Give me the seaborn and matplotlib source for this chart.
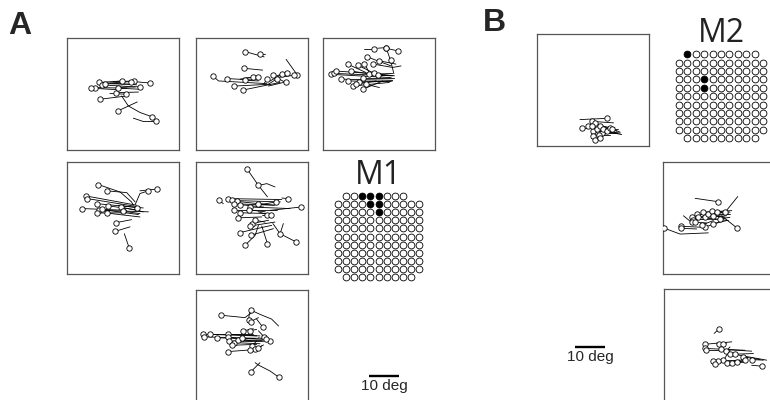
import pandas as pd
import matplotlib
matplotlib.use("Agg")
import matplotlib.pyplot as plt
import seaborn as sns

sns.set_style("white")
plt.rcParams["font.family"] = ["Liberation Sans", "DejaVu Sans"]

# saccade traces in degrees (x right, y up); the first point of each trace gets the circle
a1_traces = [
    [(27.6, 22.4), (22.0, 22.9)], [(22.2, 23.1), (15.3, 22.8)], [(21.2, 22.9), (14.2, 22.4)],
    [(18.1, 23.1), (10.9, 22.6)], [(10.7, 22.6), (23.1, 21.8)], [(11.4, 21.8), (22.6, 21.1)],
    [(9.2, 20.9), (19.8, 20.7)], [(7.9, 20.7), (16.4, 20.2)], [(24.2, 21.2), (16.4, 20.9)],
    [(16.2, 19.2), (23.7, 19.4)], [(10.9, 17.0), (19.8, 18.1)],
    [(28.1, 11.2), (24.2, 12.6), (20.3, 14.8), (18.1, 18.1)],
    [(16.8, 13.1), (23.3, 16.1)], [(29.6, 9.6), (25.3, 9.6), (22.0, 10.7)],
    [(19.4, 18.7), (14.2, 18.9)], [(12.6, 22.2), (21.4, 22.0)], [(17.0, 20.7), (24.8, 20.3)],
]
a2_traces = [
    [(16.4, 32.9), (22.8, 31.1)], [(21.4, 32.0), (23.1, 32.0)], [(16.2, 27.3), (22.3, 26.7)],
    [(5.7, 24.8), (7.6, 23.1), (23.7, 22.2)], [(10.3, 23.9), (19.2, 23.4)],
    [(19.2, 24.4), (14.8, 23.7)], [(20.9, 24.4), (15.9, 24.0)], [(16.4, 23.3), (20.9, 23.1)],
    [(12.9, 21.4), (24.8, 22.0)], [(15.9, 20.1), (28.1, 22.6)], [(33.9, 25.0), (30.1, 30.3)],
    [(32.8, 25.0), (27.0, 24.2)], [(23.9, 23.9), (22.6, 22.0)], [(25.7, 25.0), (29.8, 22.6)],
    [(27.2, 23.9), (24.2, 22.0)], [(28.7, 25.3), (24.8, 23.1)], [(30.3, 25.9), (27.0, 24.8)],
    [(30.1, 22.8), (24.2, 21.4)],
]
a3_traces = [
    [(17.0, 33.7), (13.7, 33.7)], [(20.9, 34.2), (18.1, 34.0)], [(24.8, 33.1), (20.9, 34.0)],
    [(22.4, 30.0), (23.5, 25.5)], [(20.9, 34.2), (22.2, 30.5)], [(14.4, 31.2), (22.6, 28.1)],
    [(18.7, 29.8), (24.2, 28.7)], [(16.7, 28.7), (23.1, 27.6), (25.9, 28.1)],
    [(2.6, 25.3), (22.6, 24.2)], [(3.7, 25.6), (23.1, 24.8)], [(4.2, 26.4), (19.8, 25.3)],
    [(5.9, 23.7), (23.1, 23.3)], [(8.1, 28.7), (14.2, 25.9)], [(8.1, 23.1), (22.6, 22.9)],
    [(9.2, 26.4), (19.8, 24.8)], [(9.8, 21.4), (22.0, 22.6)], [(11.4, 28.4), (16.4, 25.9)],
    [(12.0, 22.6), (23.1, 23.1)], [(13.1, 24.2), (23.7, 24.2)], [(13.7, 28.9), (15.3, 25.9)],
    [(14.2, 22.0), (18.7, 20.9)], [(15.3, 25.3), (23.1, 25.6)], [(17.0, 25.6), (23.7, 24.8)],
    [(13.1, 20.3), (19.8, 23.1)], [(10.9, 22.0), (17.6, 23.1)], [(18.1, 25.1), (22.6, 25.1)],
]
a4_traces = [
    [(10.3, 29.7), (17.6, 27.2), (21.4, 23.9), (22.0, 22.8)],
    [(13.1, 27.6), (19.8, 27.0), (22.6, 23.9)], [(30.0, 28.2), (24.2, 27.6)],
    [(27.0, 27.6), (24.2, 26.7), (22.6, 23.0)], [(6.2, 25.9), (23.1, 22.8)],
    [(6.7, 25.0), (24.2, 22.2)], [(10.0, 23.3), (25.3, 21.9)], [(13.7, 22.6), (24.2, 21.1)],
    [(17.8, 22.2), (25.3, 20.6)], [(23.1, 22.0), (17.0, 22.8)], [(4.8, 21.7), (19.8, 21.1)],
    [(10.7, 21.1), (27.0, 20.6)], [(11.4, 21.4), (23.7, 19.7)], [(13.1, 20.2), (24.2, 18.9)],
    [(10.0, 20.2), (19.8, 20.3)], [(18.7, 20.8), (24.2, 20.0)], [(16.2, 17.0), (21.4, 18.0)],
    [(15.9, 14.1), (20.9, 15.6)], [(20.6, 8.6), (19.0, 13.3)],
]
a5_traces = [
    [(17.0, 35.0), (20.9, 29.4), (23.9, 25.6)], [(20.9, 29.4), (23.7, 30.0), (26.4, 28.9)],
    [(7.6, 24.7), (9.2, 23.3)], [(30.9, 25.0), (28.7, 25.2)], [(10.9, 25.0), (28.7, 24.7)],
    [(12.0, 24.4), (28.2, 23.9)], [(13.7, 24.1), (23.7, 23.0)], [(12.6, 23.3), (26.0, 22.8)],
    [(14.8, 23.0), (22.6, 22.2)], [(18.1, 22.2), (31.4, 21.7)], [(26.8, 23.9), (20.3, 22.8)],
    [(35.0, 22.2), (24.8, 21.1)], [(12.6, 21.1), (27.0, 21.1)], [(14.6, 20.3), (25.3, 20.0)],
    [(17.6, 21.3), (23.2, 20.6)], [(23.9, 19.7), (20.9, 20.6)], [(25.1, 19.7), (22.0, 19.7)],
    [(14.0, 18.6), (22.0, 18.9)], [(18.7, 16.7), (24.3, 17.8)], [(18.1, 15.9), (26.4, 17.2)],
    [(19.8, 17.8), (23.1, 17.2)], [(14.8, 13.7), (20.3, 15.0), (25.3, 16.1)],
    [(18.4, 12.8), (25.9, 15.0)], [(16.4, 9.4), (19.8, 12.8), (20.9, 16.1)],
    [(23.9, 10.0), (22.0, 15.9)], [(33.4, 10.6), (28.1, 13.3), (25.7, 16.7)],
    [(28.1, 13.3), (29.2, 16.7)], [(20.9, 23.3), (26.4, 22.8)],
]
a6_traces = [
    [(8.4, 28.9), (16.4, 28.1), (18.7, 29.8)],
    [(18.4, 30.6), (21.4, 29.2), (25.3, 27.6), (27.6, 25.3)],
    [(17.6, 27.2), (17.9, 29.8)], [(18.3, 26.8), (20.9, 28.1)], [(22.3, 25.0), (20.3, 27.6)],
    [(15.9, 23.7), (19.2, 24.4)], [(18.1, 23.7), (20.3, 24.2)], [(22.8, 21.7), (20.9, 23.7)],
    [(24.6, 20.3), (22.0, 22.0)], [(2.3, 22.6), (20.3, 22.0)], [(2.6, 21.7), (20.9, 21.2)],
    [(4.6, 22.6), (19.2, 22.6)], [(7.0, 21.4), (22.0, 20.9)], [(10.6, 22.6), (21.4, 22.0)],
    [(10.9, 21.7), (18.7, 20.3)], [(11.2, 20.3), (22.6, 20.1)], [(12.6, 19.8), (21.4, 19.4)],
    [(12.2, 18.9), (20.3, 19.2)], [(14.2, 20.6), (22.0, 20.6)], [(15.3, 21.4), (19.8, 21.4)],
    [(10.9, 16.8), (17.6, 17.3)], [(18.7, 18.7), (20.3, 20.3)], [(19.8, 17.6), (22.0, 18.7)],
    [(18.1, 17.2), (21.4, 17.6)], [(20.9, 18.1), (22.6, 19.0)], [(18.4, 10.1), (21.4, 13.1)],
    [(27.6, 8.3), (24.8, 10.3), (20.9, 12.3), (19.8, 13.1)], [(23.4, 20.9), (20.9, 21.4)],
]
b1_traces = [
    [(23.3, 9.3), (14.4, 8.9)], [(15.0, 6.1), (20.0, 6.1)], [(18.3, 8.3), (25.6, 7.8)],
    [(17.2, 6.7), (26.1, 5.6)], [(19.4, 7.8), (26.7, 5.0)], [(18.9, 5.0), (27.8, 4.4)],
    [(20.0, 5.6), (28.3, 3.9)], [(21.1, 6.7), (26.1, 6.1)], [(21.7, 4.4), (26.7, 4.4)],
    [(22.2, 5.6), (25.6, 5.0)], [(23.3, 5.0), (27.2, 4.4)], [(24.4, 6.1), (27.8, 4.7)],
    [(20.6, 3.9), (24.4, 3.9)], [(18.9, 3.3), (21.7, 4.4)], [(19.4, 2.0), (21.1, 3.3)],
    [(21.1, 2.8), (22.8, 3.9)], [(18.3, 6.9), (20.0, 4.4)], [(25.0, 5.6), (27.2, 5.6)],
]
b2_traces = [
    [(18.1, 24.1), (10.6, 25.2)], [(24.7, 15.2), (19.4, 19.4)], [(20.6, 20.6), (24.8, 25.8)],
    [(0.2, 15.3), (5.6, 13.3), (15.0, 13.7)], [(5.8, 15.9), (12.2, 15.6)],
    [(5.8, 15.2), (11.1, 15.0)], [(9.4, 18.9), (18.9, 19.4)], [(10.0, 18.1), (20.0, 18.3)],
    [(11.1, 20.0), (22.2, 20.0)], [(11.7, 18.9), (21.7, 17.8)], [(13.3, 20.6), (22.8, 21.1)],
    [(13.9, 18.9), (21.1, 19.4)], [(15.0, 20.0), (20.6, 20.6)], [(16.1, 20.9), (22.2, 20.6)],
    [(16.7, 19.4), (20.6, 18.9)], [(17.8, 20.6), (21.7, 20.0)], [(16.7, 16.7), (21.1, 17.8)],
    [(13.9, 15.6), (18.3, 17.2)], [(12.8, 16.3), (16.7, 17.8)], [(18.9, 18.3), (22.2, 18.9)],
    [(9.4, 17.2), (6.7, 19.4)], [(10.6, 17.2), (14.4, 17.0)],
]
b3_traces = [
    [(18.4, 24.2), (16.7, 22.6)], [(13.7, 19.0), (22.6, 19.8)], [(13.7, 17.6), (27.0, 17.0)],
    [(14.0, 17.0), (20.9, 16.8)], [(18.4, 19.2), (20.9, 19.4)], [(19.8, 19.0), (17.6, 19.4)],
    [(19.0, 17.3), (29.2, 16.7)], [(20.6, 16.7), (22.0, 18.1)], [(22.0, 15.9), (34.2, 13.7)],
    [(23.7, 15.7), (29.8, 15.9)], [(26.4, 14.8), (32.0, 13.9)], [(27.0, 13.9), (23.1, 13.4)],
    [(29.2, 13.9), (33.1, 13.7)], [(32.6, 11.7), (29.2, 12.0)], [(19.8, 13.7), (22.0, 17.0)],
    [(18.1, 13.4), (25.3, 13.7)], [(16.4, 13.4), (18.7, 13.7)], [(17.0, 12.3), (19.2, 13.1)],
    [(20.9, 12.7), (26.4, 13.4)], [(22.6, 12.7), (27.6, 13.1)], [(24.2, 13.1), (27.6, 13.7)],
]

# electrode arrays: (first col, last col) per row, and stimulated sites (row, col)
m1_row_span = [(1, 8)] + [(0, 10)] * 9 + [(1, 9)]
m1_stim = [(0, 3), (0, 4), (0, 5), (1, 4), (1, 5), (2, 5)]
m2_row_span = [(1, 9)] + [(0, 10)] * 9 + [(1, 9)]
m2_stim = [(0, 1), (3, 3), (4, 3)]

scale_deg = 10
box_deg = 37.3

W, H = 770, 400
fig = plt.figure(figsize=(W / 100, H / 100), dpi=100)


def px_axes(left, top, width, height):
    return fig.add_axes([left / W, 1 - (top + height) / H, width / W, height / H])


def trace_box(left, top, traces):
    ax = px_axes(left, top, 112, 112)
    rows = []
    for i, tr in enumerate(traces):
        for j, (x, y) in enumerate(tr):
            rows.append({"trace": i, "order": j, "x": x, "y": y})
    df = pd.DataFrame(rows)
    sns.lineplot(data=df, x="x", y="y", units="trace", estimator=None, sort=False,
                 color="black", lw=0.6, legend=False, ax=ax)
    sns.scatterplot(data=df[df["order"] == 0], x="x", y="y", s=15, color="white",
                    edgecolor="black", linewidth=0.6, legend=False, ax=ax, zorder=3)
    ax.set_xlim(0, box_deg)
    ax.set_ylim(0, box_deg)
    ax.set(xticks=[], yticks=[], xlabel="", ylabel="")
    for s in ax.spines.values():
        s.set_color("#555555")
        s.set_linewidth(0.9)


def array_map(left, top, pitch, spans, stim, label):
    ax = px_axes(left, top, pitch * 11, pitch * 11)
    rows = []
    for r, (c0, c1) in enumerate(spans):
        for c in range(c0, c1 + 1):
            rows.append({"row": r, "col": c, "stim": (r, c) in stim})
    df = pd.DataFrame(rows)
    sns.scatterplot(data=df[~df["stim"]], x="col", y="row", s=24, color="white",
                    edgecolor="black", linewidth=0.6, legend=False, ax=ax)
    sns.scatterplot(data=df[df["stim"]], x="col", y="row", s=24, color="black",
                    edgecolor="black", linewidth=0.6, legend=False, ax=ax)
    ax.set_xlim(-0.5, 10.5)
    ax.set_ylim(10.5, -0.5)
    ax.axis("off")
    ax.text(5, -0.55, label, ha="center", va="bottom", fontsize=23,
            family=["Open Sans", "DejaVu Sans"], color="#222222")


def scale_bar(left, top):
    ax = px_axes(left, top, scale_deg * 3, 4)
    bar = pd.DataFrame({"x": [0, scale_deg], "y": [0, 0]})
    sns.lineplot(data=bar, x="x", y="y", color="black", lw=1.7, ax=ax)
    ax.set_xlim(0, scale_deg)
    ax.set_ylim(-1, 1)
    ax.axis("off")
    ax.text(scale_deg / 2, -1.6, f"{scale_deg} deg", ha="center", va="top", fontsize=11)


trace_box(67.3, 38.3, a1_traces)
trace_box(195.7, 38.3, a2_traces)
trace_box(323.3, 38.3, a3_traces)
trace_box(67.3, 161.7, a4_traces)
trace_box(195.7, 161.7, a5_traces)
trace_box(195.7, 290, a6_traces)
trace_box(536.7, 34.3, b1_traces)
trace_box(663.3, 162, b2_traces)
trace_box(664, 289.3, b3_traces)

array_map(334, 192, 8.1, m1_row_span, m1_stim, "M1")
array_map(674.8, 50.1, 8.4, m2_row_span, m2_stim, "M2")

scale_bar(369, 374)
scale_bar(575, 345)

fig.text(20 / W, 1 - 26 / H, "A", ha="center", va="center", fontsize=23, fontweight="bold")
fig.text(494 / W, 1 - 23 / H, "B", ha="center", va="center", fontsize=23, fontweight="bold")

fig.savefig("out.png", dpi=100)
